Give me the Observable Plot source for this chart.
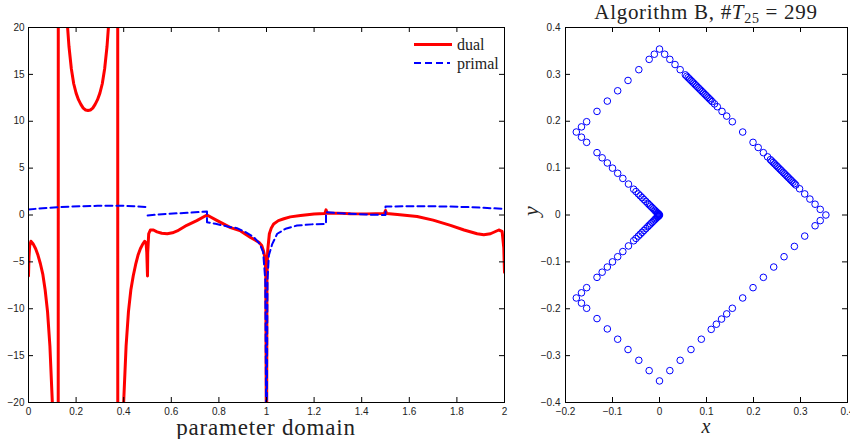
<!DOCTYPE html>
<html>
<head>
<meta charset="utf-8">
<script src="https://cdn.jsdelivr.net/npm/d3@7"></script>
<script src="https://cdn.jsdelivr.net/npm/@observablehq/plot@0.6"></script>
<style>
  html, body { margin: 0; padding: 0; background: #fff; }
  #wrap { position: relative; width: 850px; height: 439px; overflow: hidden; background: #fff; }
  .abs { position: absolute; white-space: nowrap; color: #222; }
  .serif { font-family: "Liberation Serif", "Times New Roman", serif; }
</style>
</head>
<body>
<div id="wrap">
  <div id="left" class="abs" style="left:0;top:0;width:510px;"></div>
  <div id="right" class="abs" style="left:510px;top:0;width:340px;"></div>
  <div class="abs serif" style="left:28px;width:476px;top:416px;text-align:center;font-size:23px;line-height:23px;letter-spacing:0.8px;">parameter domain</div>
  <div class="abs serif" style="left:565px;width:282px;top:416px;text-align:center;font-size:20px;line-height:20px;font-style:italic;">x</div>
  <div class="abs serif" style="left:520px;top:200px;width:22px;height:22px;text-align:center;font-size:22px;line-height:22px;font-style:italic;transform:rotate(-90deg);">y</div>
  <div class="abs serif" style="left:545px;width:322px;top:1px;text-align:center;font-size:21px;line-height:22px;letter-spacing:0.7px;">Algorithm B, #<i>T</i><span style="font-size:14px;position:relative;top:4px;">25</span>&nbsp;=&nbsp;299</div>
  <!-- legend -->
  <div class="abs" style="left:414px;top:43px;width:38px;height:0;border-top:3px solid #ff0000;"></div>
  <div class="abs serif" style="left:457px;top:36px;font-size:16px;line-height:18px;">dual</div>
  <svg class="abs" style="left:414px;top:60px;" width="36" height="6"><line x1="0" y1="3" x2="36" y2="3" stroke="#0000ff" stroke-width="2" stroke-dasharray="7,4"/></svg>
  <div class="abs serif" style="left:457px;top:55px;font-size:16px;line-height:18px;">primal</div>
</div>
<script>
// ---------- Left panel: parameter domain ----------
const dualX = [0, 0.002, 0.005, 0.01, 0.02, 0.03, 0.04, 0.05, 0.06, 0.07, 0.08, 0.09, 0.1, 0.11, 0.12, 0.1245,
  0.1255, 0.13, 0.14, 0.15, 0.16, 0.17, 0.18, 0.19, 0.2, 0.21, 0.22, 0.23, 0.24, 0.25,
  0.26, 0.27, 0.28, 0.29, 0.3, 0.31, 0.32, 0.33, 0.34, 0.35, 0.36, 0.37, 0.3745,
  0.3755, 0.38, 0.39, 0.4, 0.41, 0.42, 0.43, 0.44, 0.45, 0.46, 0.47, 0.48, 0.488, 0.494, 0.497, 0.5,
  0.501, 0.505, 0.512, 0.525, 0.54, 0.56, 0.583, 0.605, 0.625, 0.665, 0.707, 0.75,
  0.793, 0.849, 0.891, 0.933, 0.968, 0.98, 0.987, 0.993, 0.997, 0.9995,
  1.0005, 1.002, 1.005, 1.012, 1.02, 1.03, 1.05, 1.073, 1.1, 1.143, 1.2, 1.245, 1.25, 1.255,
  1.3, 1.353, 1.42, 1.495, 1.5, 1.505, 1.55, 1.633, 1.7, 1.773, 1.83, 1.885, 1.913, 1.941, 1.976, 1.99, 1.997, 2.0];
const dualY = [-6.5, -4.5, -3.3, -2.8, -3.1, -3.6, -4.3, -5.2, -6.3, -8.0, -10.3, -14.0, -19.9, -30, -55, -100,
  100, 60, 38, 28, 21.5, 18, 15.6, 14.0, 13.0, 12.3, 11.8, 11.4, 11.2, 11.15,
  11.2, 11.4, 11.8, 12.3, 13.0, 14.0, 15.6, 18, 21.5, 28, 38, 60, 100,
  -100, -55, -30, -19.9, -14.0, -10.3, -8.0, -6.5, -5.3, -4.3, -3.6, -3.1, -2.8, -3.0, -4.0, -6.5,
  -4.0, -2.0, -1.6, -1.6, -1.8, -1.95, -2.0, -1.9, -1.7, -1.1, -0.6, 0.0,
  -0.6, -1.35, -1.7, -2.4, -2.9, -3.25, -3.8, -4.5, -6, -25,
  -25, -6.5, -3.8, -2.0, -1.4, -0.95, -0.6, -0.4, -0.2, -0.05, 0.1, 0.15, 0.55, 0.2,
  0.2, 0.13, 0.12, 0.15, 0.48, 0.15, 0.05, -0.16, -0.55, -1.1, -1.6, -2.0, -2.1, -2.0, -1.6, -1.75, -3.5, -6.1];

const primalX = [0, 0.06, 0.12, 0.18, 0.232, 0.29, 0.345, 0.4, 0.443, 0.4995, 0.5,
  0.5005, 0.583, 0.667, 0.75, 0.75, 0.786, 0.84, 0.876, 0.912, 0.947, 0.972, 0.986, 0.995, 0.9995,
  1.0005, 1.004, 1.01, 1.024, 1.045, 1.08, 1.128, 1.19, 1.25, 1.25,
  1.3, 1.353, 1.42, 1.5, 1.5, 1.57, 1.633, 1.7, 1.773, 1.85, 1.913, 2.0];
const primalY = [0.59, 0.72, 0.83, 0.9, 0.94, 0.98, 1.0, 0.98, 0.94, 0.85, NaN,
  -0.05, 0.13, 0.23, 0.37, -0.77, -0.94, -1.25, -1.4, -1.83, -2.37, -3.1, -3.97, -7, -25,
  -25, -7, -4.3, -3.1, -2.0, -1.47, -1.12, -1.0, -0.95, 0.3,
  0.2, 0.13, 0.05, 0.0, 0.9, 0.93, 0.94, 0.93, 0.9, 0.84, 0.77, 0.65];

const leftXTicks = [0, 0.2, 0.4, 0.6, 0.8, 1, 1.2, 1.4, 1.6, 1.8, 2];
const leftYTicks = [-20, -15, -10, -5, 0, 5, 10, 15, 20];

// ---------- Right panel: mesh boundary nodes ----------
const edgeOuterUpperLeft = [[-0.177,0.177],[-0.166,0.188],[-0.155,0.199],[-0.133,0.221],[-0.111,0.243],[-0.089,0.265],[-0.067,0.287],[-0.044,0.310],[-0.022,0.332],[-0.011,0.343],[0,0.354]];
const edgeUpperRight = [[0.011,0.343],[0.022,0.332],[0.033,0.321],[0.044,0.310],[0.055,0.299],
  [0.058,0.296],[0.061,0.293],[0.064,0.290],[0.067,0.287],[0.070,0.284],[0.073,0.281],[0.076,0.278],[0.079,0.275],[0.082,0.272],[0.085,0.269],[0.088,0.266],[0.091,0.263],[0.094,0.260],[0.097,0.257],[0.100,0.254],[0.103,0.251],[0.106,0.248],[0.109,0.245],[0.112,0.242],
  [0.117,0.237],[0.123,0.231],[0.133,0.221],[0.143,0.211],[0.155,0.199],[0.177,0.177],[0.199,0.155],[0.210,0.144],[0.221,0.133],[0.230,0.124],
  [0.236,0.118],[0.239,0.115],[0.242,0.112],[0.245,0.109],[0.248,0.106],[0.251,0.103],[0.254,0.100],[0.257,0.097],[0.260,0.094],[0.263,0.091],[0.266,0.088],[0.269,0.085],[0.272,0.082],[0.275,0.079],[0.278,0.076],[0.281,0.073],[0.284,0.070],[0.287,0.067],[0.290,0.064],
  [0.298,0.056],[0.309,0.045],[0.320,0.034],[0.331,0.023],[0.342,0.012],[0.354,0]];
const edgeLowerRight = [[0.342,-0.012],[0.331,-0.023],[0.309,-0.045],[0.287,-0.067],[0.265,-0.089],[0.243,-0.111],[0.221,-0.133],[0.199,-0.155],[0.177,-0.177],[0.155,-0.199],[0.143,-0.211],[0.132,-0.222],[0.121,-0.233],[0.110,-0.244],[0.089,-0.265],[0.067,-0.287],[0.044,-0.310],[0.022,-0.332],[0,-0.354]];
const edgeOuterLowerLeft = [[-0.022,-0.332],[-0.044,-0.310],[-0.067,-0.287],[-0.089,-0.265],[-0.111,-0.243],[-0.133,-0.221],[-0.155,-0.199],[-0.166,-0.188],[-0.177,-0.177]];
const edgeInnerLower = [[-0.166,-0.166],[-0.155,-0.155],[-0.133,-0.133],[-0.122,-0.122],[-0.111,-0.111],[-0.100,-0.100],[-0.089,-0.089],[-0.078,-0.078],[-0.066,-0.066],[-0.055,-0.055],[-0.050,-0.050],[-0.045,-0.045],[-0.041,-0.041],[-0.037,-0.037],[-0.033,-0.033],[-0.029,-0.029],[-0.025,-0.025],[-0.022,-0.022],[-0.019,-0.019],[-0.016,-0.016],[-0.013,-0.013],[-0.010,-0.010],[-0.008,-0.008],[-0.006,-0.006],[-0.004,-0.004],[-0.003,-0.003],[-0.002,-0.002],[-0.001,-0.001],[0,0]];
const edgeInnerUpper = [[-0.001,0.001],[-0.002,0.002],[-0.003,0.003],[-0.004,0.004],[-0.006,0.006],[-0.008,0.008],[-0.010,0.010],[-0.013,0.013],[-0.016,0.016],[-0.019,0.019],[-0.022,0.022],[-0.025,0.025],[-0.029,0.029],[-0.033,0.033],[-0.037,0.037],[-0.041,0.041],[-0.045,0.045],[-0.050,0.050],[-0.055,0.055],[-0.066,0.066],[-0.078,0.078],[-0.089,0.089],[-0.100,0.100],[-0.111,0.111],[-0.122,0.122],[-0.133,0.133],[-0.155,0.155],[-0.166,0.166]];

const rightXTicks = [-0.2, -0.1, 0, 0.1, 0.2, 0.3, 0.4];
const rightYTicks = [-0.4, -0.3, -0.2, -0.1, 0, 0.1, 0.2, 0.3, 0.4];

// ---------- build ----------
const fmt = d => d < 0 ? "\u2212" + String(-d) : String(d);
const dual = dualX.map((x, i) => ({x, y: dualY[i]}));
const primal = primalX.map((x, i) => ({x, y: primalY[i]}));
const nodes = [...edgeOuterUpperLeft, ...edgeUpperRight, ...edgeLowerRight, ...edgeOuterLowerLeft, ...edgeInnerLower, ...edgeInnerUpper];

const baseStyle = {fontFamily: "'Liberation Sans', Arial, sans-serif", fontSize: "10px", color: "#222", background: "transparent", overflow: "visible"};

function boxTicks(xt, yt, W, H, len) {
  return [
    Plot.ruleX(xt, {x: d => d, insetTop: H - len, stroke: "#000", strokeWidth: 1}),
    Plot.ruleX(xt, {x: d => d, insetBottom: H - len, stroke: "#000", strokeWidth: 1}),
    Plot.ruleY(yt, {y: d => d, insetRight: W - len, stroke: "#000", strokeWidth: 1}),
    Plot.ruleY(yt, {y: d => d, insetLeft: W - len, stroke: "#000", strokeWidth: 1}),
    Plot.frame({stroke: "#000", strokeWidth: 1})
  ];
}

const L = {ml: 28, mr: 6, mt: 27, mb: 37, w: 510, h: 439};
const leftPlot = Plot.plot({
  width: L.w, height: L.h,
  marginLeft: L.ml, marginRight: L.mr, marginTop: L.mt, marginBottom: L.mb,
  style: baseStyle,
  x: {domain: [0, 2], ticks: leftXTicks, tickFormat: fmt, tickSize: 0, tickPadding: 5, label: null},
  y: {domain: [-20, 20], ticks: leftYTicks, tickFormat: fmt, tickSize: 0, tickPadding: 4, label: null},
  marks: [
    Plot.line(dual, {x: "x", y: "y", stroke: "#ff0000", strokeWidth: 3, clip: true}),
    Plot.line(primal, {x: "x", y: "y", stroke: "#0000ff", strokeWidth: 2, strokeDasharray: "7,4", clip: true}),
    ...boxTicks(leftXTicks, leftYTicks, L.w - L.ml - L.mr, L.h - L.mt - L.mb, 5)
  ]
});
document.getElementById("left").appendChild(leftPlot);

const R = {ml: 55, mr: 3, mt: 27, mb: 37, w: 340, h: 439};
const rightPlot = Plot.plot({
  width: R.w, height: R.h,
  marginLeft: R.ml, marginRight: R.mr, marginTop: R.mt, marginBottom: R.mb,
  style: baseStyle,
  x: {domain: [-0.2, 0.4], ticks: rightXTicks, tickFormat: fmt, tickSize: 0, tickPadding: 5, label: null},
  y: {domain: [-0.4, 0.4], ticks: rightYTicks, tickFormat: fmt, tickSize: 0, tickPadding: 5, label: null},
  marks: [
    Plot.dot(nodes, {x: d => d[0], y: d => d[1], r: 3.3, stroke: "#0000ff", fill: "none", strokeWidth: 1}),
    ...boxTicks(rightXTicks, rightYTicks, R.w - R.ml - R.mr, R.h - R.mt - R.mb, 5)
  ]
});
document.getElementById("right").appendChild(rightPlot);
</script>
</body>
</html>
